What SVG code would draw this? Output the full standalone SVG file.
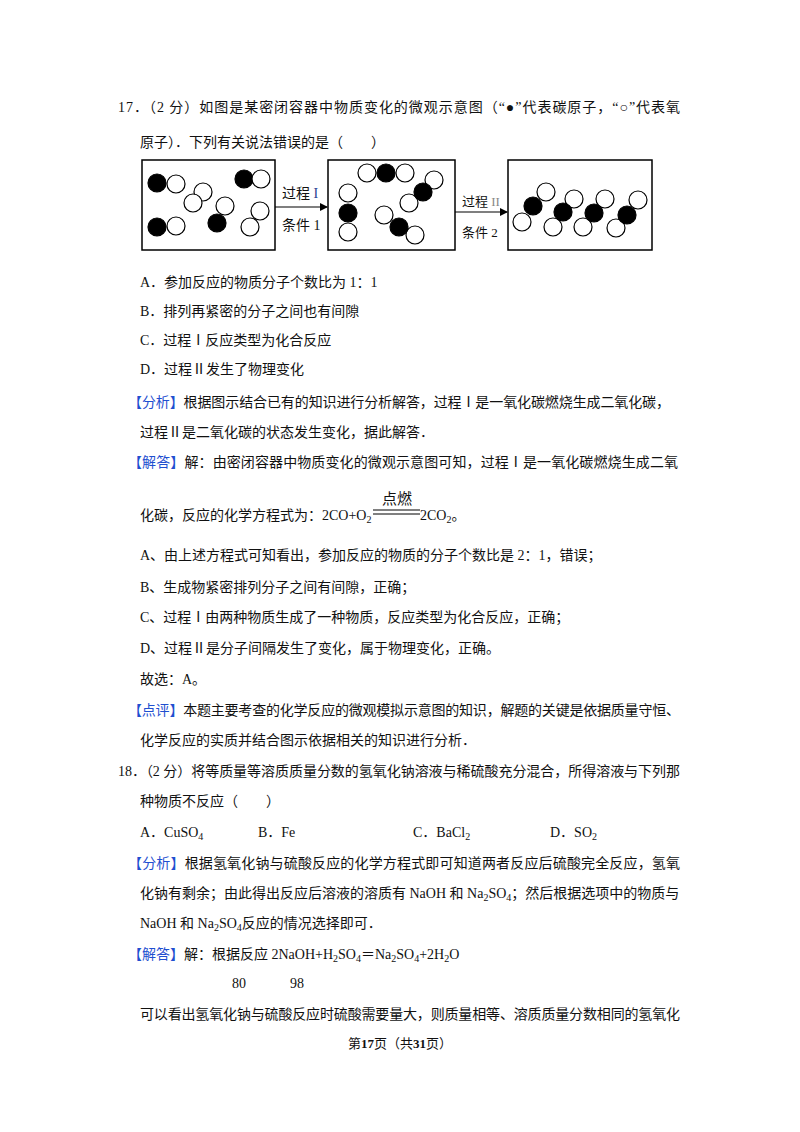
<svg xmlns="http://www.w3.org/2000/svg" width="800" height="1132" viewBox="0 0 800 1132">
<style>
text{font-family:"Liberation Serif","Noto Sans CJK SC",serif;font-size:14px;fill:#111}
.b{fill:#1f4fd0}
.w{fill:#fff;stroke:#000;stroke-width:1.2}
.k{fill:#000;stroke:#000;stroke-width:1.2}
.box{fill:#fff;stroke:#000;stroke-width:1.5}
.s{font-size:10px}
</style>
<defs><marker id="ar" markerWidth="8" markerHeight="8" refX="7" refY="4" orient="auto" markerUnits="userSpaceOnUse"><path d="M0,0 L8,4 L0,8 z" fill="#000"/></marker></defs>
<rect width="800" height="1132" fill="#fff"/>
<text x="118" y="112" textLength="562">17．（2 分）如图是某密闭容器中物质变化的微观示意图（“●”代表碳原子，“○”代表氧</text>
<text x="140" y="147">原子）．下列有关说法错误的是（　　）</text>
<g id="box1"><rect class="box" x="142" y="160" width="133" height="90"/>
<circle class="k" cx="157" cy="183" r="9"/><circle class="w" cx="176" cy="184" r="9"/>
<circle class="w" cx="203" cy="192" r="9"/><circle class="w" cx="193" cy="203" r="9"/>
<circle class="k" cx="244" cy="179" r="9"/><circle class="w" cx="261" cy="179" r="9"/>
<circle class="w" cx="225" cy="206" r="9"/><circle class="k" cx="217" cy="223" r="9"/>
<circle class="w" cx="260" cy="211" r="9"/><circle class="w" cx="250" cy="227" r="9"/>
<circle class="k" cx="157" cy="227" r="9"/><circle class="w" cx="176" cy="226" r="9"/></g>
<g id="box2"><rect class="box" x="328" y="160" width="127" height="90"/>
<circle class="w" cx="367" cy="173" r="9"/><circle class="w" cx="405" cy="173" r="9"/><circle class="k" cx="386" cy="173" r="9"/>
<circle class="w" cx="434" cy="180" r="9"/><circle class="w" cx="409" cy="203" r="9"/><circle class="k" cx="423" cy="192" r="9"/>
<circle class="w" cx="348" cy="193" r="9"/><circle class="w" cx="348" cy="232" r="9"/><circle class="k" cx="348" cy="213" r="9"/>
<circle class="w" cx="384" cy="215" r="9"/><circle class="w" cx="415" cy="235" r="9"/><circle class="k" cx="399" cy="227" r="9"/></g>
<g id="box3"><rect class="box" x="508" y="160" width="144" height="90"/>
<circle class="w" cx="546" cy="192" r="9"/><circle class="w" cx="522" cy="222" r="9"/><circle class="k" cx="533" cy="206" r="9"/>
<circle class="w" cx="574" cy="199" r="9"/><circle class="w" cx="553" cy="227" r="9"/><circle class="k" cx="563" cy="212" r="9"/>
<circle class="w" cx="605" cy="199" r="9"/><circle class="w" cx="583" cy="227" r="9"/><circle class="k" cx="594" cy="213" r="9"/>
<circle class="w" cx="638" cy="200" r="9"/><circle class="w" cx="616" cy="228" r="9"/><circle class="k" cx="627" cy="215" r="9"/></g>
<g id="connectors">
<line x1="275" y1="207" x2="327" y2="207" stroke="#000" stroke-width="1.2" marker-end="url(#ar)"/>
<line x1="455" y1="212" x2="507" y2="212" stroke="#000" stroke-width="1.2" marker-end="url(#ar)"/>
<text x="282" y="198">过程 <tspan fill="#1f3f90">I</tspan></text>
<text x="282" y="230">条件 1</text>
<text x="462" y="206" style="font-size:13px">过程 <tspan fill="#888">II</tspan></text>
<text x="462" y="237" style="font-size:13px">条件 2</text>
</g>
<text x="140" y="287">A．参加反应的物质分子个数比为 1：1</text>
<text x="140" y="316">B．排列再紧密的分子之间也有间隙</text>
<text x="140" y="345">C．过程Ⅰ反应类型为化合反应</text>
<text x="140" y="374">D．过程Ⅱ发生了物理变化</text>
<text x="128" y="407" textLength="542"><tspan class="b">【分析】</tspan>根据图示结合已有的知识进行分析解答，过程Ⅰ是一氧化碳燃烧生成二氧化碳，</text>
<text x="140" y="437">过程Ⅱ是二氧化碳的状态发生变化，据此解答．</text>
<text x="128" y="467" textLength="550"><tspan class="b">【解答】</tspan>解：由密闭容器中物质变化的微观示意图可知，过程Ⅰ是一氧化碳燃烧生成二氧</text>
<text x="140" y="520">化碳，反应的化学方程式为：2CO+O<tspan class="s" dy="3">2</tspan></text>
<line x1="373" y1="510" x2="420" y2="510" stroke="#000" stroke-width="1"/>
<line x1="373" y1="514" x2="420" y2="514" stroke="#000" stroke-width="1"/>
<text x="397" y="504" text-anchor="middle" style="font-size:15px">点燃</text>
<text x="420" y="520">2CO<tspan class="s" dy="3">2</tspan><tspan dy="-3">。</tspan></text>
<text x="140" y="560">A、由上述方程式可知看出，参加反应的物质的分子个数比是 2：1，错误；</text>
<text x="140" y="592">B、生成物紧密排列分子之间有间隙，正确；</text>
<text x="140" y="622">C、过程Ⅰ由两种物质生成了一种物质，反应类型为化合反应，正确；</text>
<text x="140" y="653">D、过程Ⅱ是分子间隔发生了变化，属于物理变化，正确。</text>
<text x="140" y="684">故选：A。</text>
<text x="128" y="715" textLength="552"><tspan class="b">【点评】</tspan>本题主要考查的化学反应的微观模拟示意图的知识，解题的关键是依据质量守恒、</text>
<text x="140" y="745">化学反应的实质并结合图示依据相关的知识进行分析．</text>
<text x="118" y="776" textLength="562">18．（2 分）将等质量等溶质质量分数的氢氧化钠溶液与稀硫酸充分混合，所得溶液与下列那</text>
<text x="140" y="806">种物质不反应（　　）</text>
<text x="140" y="837">A．CuSO<tspan class="s" dy="3">4</tspan></text>
<text x="258" y="837">B．Fe</text>
<text x="413" y="837">C．BaCl<tspan class="s" dy="3">2</tspan></text>
<text x="550" y="837">D．SO<tspan class="s" dy="3">2</tspan></text>
<text x="128" y="868" textLength="552"><tspan class="b">【分析】</tspan>根据氢氧化钠与硫酸反应的化学方程式即可知道两者反应后硫酸完全反应，氢氧</text>
<text x="140" y="898">化钠有剩余；由此得出反应后溶液的溶质有 NaOH 和 Na<tspan class="s" dy="3">2</tspan><tspan dy="-3">SO</tspan><tspan class="s" dy="3">4</tspan><tspan dy="-3">；然后根据选项中的物质与</tspan></text>
<text x="140" y="928">NaOH 和 Na<tspan class="s" dy="3">2</tspan><tspan dy="-3">SO</tspan><tspan class="s" dy="3">4</tspan><tspan dy="-3">反应的情况选择即可．</tspan></text>
<text x="128" y="959"><tspan class="b">【解答】</tspan>解：根据反应 2NaOH+H<tspan class="s" dy="3">2</tspan><tspan dy="-3">SO</tspan><tspan class="s" dy="3">4</tspan><tspan dy="-3">＝Na</tspan><tspan class="s" dy="3">2</tspan><tspan dy="-3">SO</tspan><tspan class="s" dy="3">4</tspan><tspan dy="-3">+2H</tspan><tspan class="s" dy="3">2</tspan><tspan dy="-3">O</tspan></text>
<text x="232" y="988">80</text>
<text x="290" y="988">98</text>
<text x="140" y="1019" textLength="540">可以看出氢氧化钠与硫酸反应时硫酸需要量大，则质量相等、溶质质量分数相同的氢氧化</text>
<text x="400" y="1048" text-anchor="middle" style="font-size:13px">第<tspan font-weight="bold">17</tspan>页（共<tspan font-weight="bold">31</tspan>页）</text>
</svg>
